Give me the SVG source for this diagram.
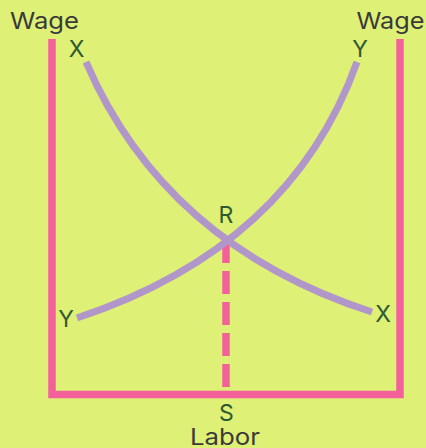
<svg xmlns="http://www.w3.org/2000/svg" width="426" height="448" viewBox="0 0 426 448">
<style>
.axis{fill:none;stroke:#F4609A;stroke-width:7.5}
.dash{fill:none;stroke:#F4609A;stroke-width:7.5;stroke-dasharray:23 8}
.curve{fill:none;stroke:#B197C9;stroke-width:7}
.lbl{font-family:Inter,"Liberation Sans",sans-serif;font-size:23px;fill:#2E5A32;text-anchor:middle}
.ttl{font-family:Inter,"Liberation Sans",sans-serif;font-size:23px;fill:#3A3A3A;text-anchor:middle}
</style>
<rect width="426" height="448" fill="#DEF075"/>
<g id="axes">
<path class="axis" d="M52,39 V394.5 H400 V39"/>
</g>
<g id="connectors">
<path class="dash" d="M226,240 V390"/>
<path id="curveX" class="curve" d="M86,62 Q165,245 372,312"/>
<path id="curveY" class="curve" d="M77,318 Q291,247 357,62"/>
</g>
<g id="labels">
<text class="ttl" x="44.5" y="29" textLength="69" lengthAdjust="spacingAndGlyphs">Wage</text>
<text class="ttl" x="390.5" y="29" textLength="68" lengthAdjust="spacingAndGlyphs">Wage</text>
<text class="ttl" x="225" y="445" font-size="22" textLength="70" lengthAdjust="spacingAndGlyphs">Labor</text>
<text class="lbl" x="76.5" y="57">X</text>
<text class="lbl" x="360" y="57">Y</text>
<text class="lbl" x="226" y="223">R</text>
<text class="lbl" x="66" y="327">Y</text>
<text class="lbl" x="383" y="322">X</text>
<text class="lbl" x="226.5" y="421">S</text>
</g>
</svg>
